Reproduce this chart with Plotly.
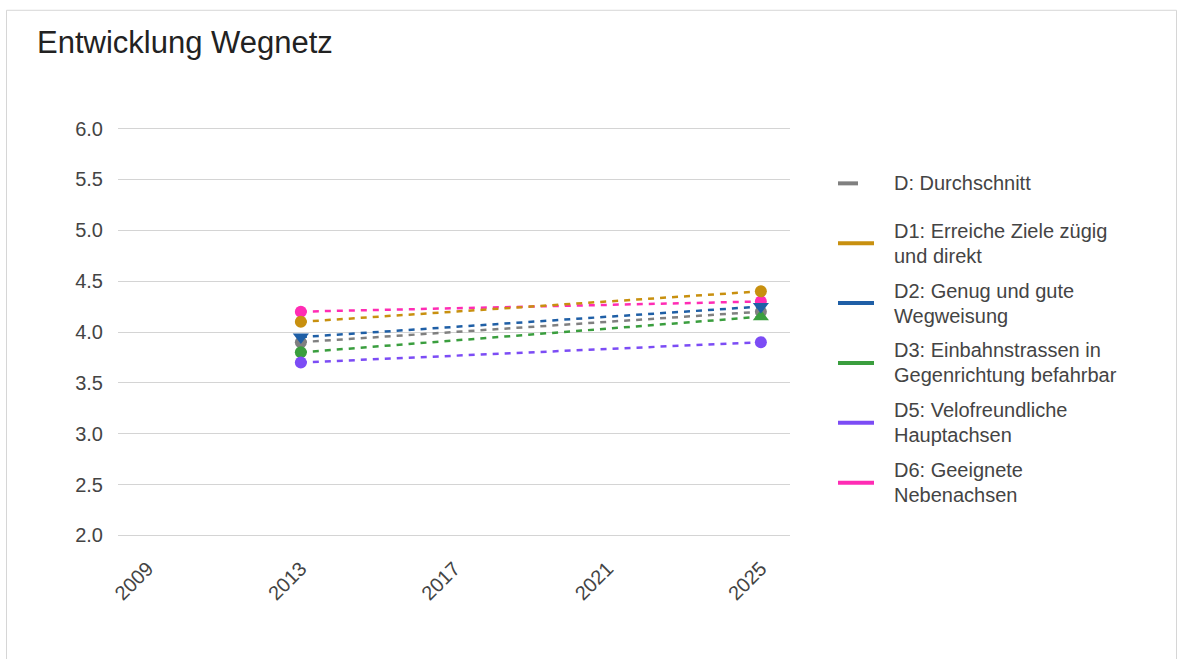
import plotly.graph_objects as go

# ---- data ----
years = [2013, 2025]
series_names = [
    "D: Durchschnitt",
    "D1: Erreiche Ziele zügig<br>und direkt",
    "D2: Genug und gute<br>Wegweisung",
    "D3: Einbahnstrassen in<br>Gegenrichtung befahrbar",
    "D5: Velofreundliche<br>Hauptachsen",
    "D6: Geeignete<br>Nebenachsen",
]
D = [3.9, 4.2]
D1 = [4.1, 4.4]
D2 = [3.95, 4.25]
D3 = [3.8, 4.15]
D5 = [3.7, 3.9]
D6 = [4.2, 4.3]
values = [D, D1, D2, D3, D5, D6]
x_ticks = [2009, 2013, 2017, 2021, 2025]
y_ticks = [2.0, 2.5, 3.0, 3.5, 4.0, 4.5, 5.0, 5.5, 6.0]

# ---- style ----
colors = ["#808080", "#c8900f", "#1f5fa6", "#3a9e3e", "#7c4cf5", "#ff2cb4"]
symbols = [
    ["circle", "circle"],
    ["circle", "circle"],
    ["triangle-down", "triangle-down"],
    ["circle", "triangle-up"],
    ["circle", "circle"],
    ["circle", "circle"],
]
draw_order = [5, 0, 3, 4, 1, 2]

W, H = 1178, 659
L, R, T, B = 118, 790, 126.5, 537.5  # plot area in pixels
Y_RANGE = [1.985, 6.015]


def px_x(p):
    return (p - L) / (R - L)


def px_y(p):
    return (B - p) / (B - T)


fig = go.Figure()
for i in draw_order:
    fig.add_trace(go.Scatter(
        x=years, y=values[i], mode="lines+markers",
        name=series_names[i].replace("<br>", " "),
        line=dict(color=colors[i], width=2.5, dash="6px,6px"),
        marker=dict(color=colors[i], size=[12 if s == "circle" else 14 for s in symbols[i]],
                    symbol=symbols[i], opacity=1, line=dict(width=0)),
        showlegend=False,
    ))

shapes = []
annotations = []
# outer border
shapes.append(dict(type="rect", xref="paper", yref="paper",
                   x0=px_x(6.5), x1=px_x(1176.5), y0=px_y(700), y1=px_y(9.5),
                   line=dict(color="#d6d6d6", width=1), fillcolor="rgba(0,0,0,0)", layer="below"))

# manual legend
leg_center0, leg_step, line_step = 183, 60, 25
for i, name in enumerate(series_names):
    c = leg_center0 + leg_step * i
    lines = name.split("<br>")
    x_end = 858 if i == 0 else 874
    shapes.append(dict(type="line", xref="paper", yref="paper",
                       x0=px_x(838), x1=px_x(x_end), y0=px_y(c), y1=px_y(c),
                       line=dict(color=colors[i], width=4)))
    n = len(lines)
    for k, t in enumerate(lines):
        yy = c + (k - (n - 1) / 2) * line_step
        annotations.append(dict(text=t, xref="paper", yref="paper",
                                x=px_x(892), y=px_y(yy), xanchor="left", yanchor="middle",
                                showarrow=False, font=dict(size=20, color="#444444")))

fig.update_layout(
    width=W, height=H,
    margin=dict(l=L, r=W - R, t=T, b=H - B, pad=0),
    paper_bgcolor="white", plot_bgcolor="white",
    font=dict(family="Liberation Sans, Arial, sans-serif", color="#444444"),
    title=dict(text="Entwicklung Wegnetz", x=37 / W, xanchor="left", y=1 - 42 / H, yanchor="middle",
               font=dict(size=31, color="#222222")),
    showlegend=False,
    shapes=shapes,
    annotations=annotations,
    xaxis=dict(range=[2008.23, 2025.76], tickmode="array", tickvals=x_ticks,
               ticktext=[str(v) for v in x_ticks], tickangle=-45,
               showgrid=False, zeroline=False, showline=False,
               tickfont=dict(size=20, color="#444444"), ticklabelstandoff=15),
    yaxis=dict(range=Y_RANGE, tickmode="array", tickvals=y_ticks,
               ticktext=[f"{v:.1f}" for v in y_ticks],
               showgrid=True, gridcolor="#d4d4d4", gridwidth=1,
               zeroline=False, showline=False,
               tickfont=dict(size=20, color="#444444"), ticklabelstandoff=14),
)

fig.write_html("out.html", config={"displayModeBar": False},
               post_script="document.body.style.margin='0';document.body.style.overflow='hidden';")
